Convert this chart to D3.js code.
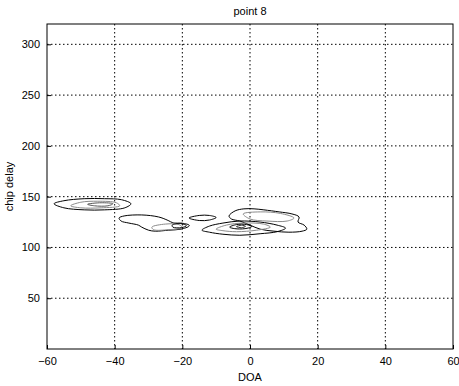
<!DOCTYPE html>
<html>
<head>
<meta charset="utf-8">
<script src="https://cdn.jsdelivr.net/npm/d3@7"></script>
<style>
  html, body { margin: 0; padding: 0; background: #fff; }
  text { font-family: "Liberation Sans", Arial, sans-serif; fill: #000; }
</style>
</head>
<body>
<div id="chart"></div>
<script>
// axis settings
const xDomain = [-60, 60];
const yDomain = [0, 320];
const xTicks = [-60, -40, -20, 0, 20, 40, 60];
const yTicks = [50, 100, 150, 200, 250, 300];

// contour loops, [DOA, chip delay]
const blob1Outer = [[-57.9,143],[-55,146],[-49,148],[-43,148],[-38,147],[-35.2,143],[-37,139],[-43,137],[-49,137],[-55,139]];
const blob1Inner = [[-53,141],[-50,144.5],[-45,145.5],[-39.5,144],[-38.5,141],[-44,139],[-50,139]];
const blob1Core  = [[-48,142.5],[-44,144],[-40.5,143],[-42,141],[-46,141]];

const blob2Outer = [[-38.7,129],[-37.2,131],[-32,132],[-27,130],[-24.5,127],[-22.5,124],[-20.4,124],[-18,122],[-18,121],[-20.4,118],[-24,117],[-28,116],[-30,117],[-32,120],[-33,122],[-35.8,124],[-38.1,126]];
const blob2Inner = [[-29,120],[-25,123],[-21,122.5],[-20,119.5],[-24,117.5],[-28.5,117.5]];
const blob2Core  = [[-23,122],[-20.5,123.5],[-18.8,121.5],[-20.2,119.5],[-22.8,120]];

const blob3Outer = [[-18,129],[-15,131.5],[-12,131.5],[-10,129.5],[-12,127],[-15,126.5]];

const blob4Lower = [[-14.2,117],[-12,121],[-8,124],[-3,126],[3,125],[8,122],[10.5,119],[8,115.5],[3,113.5],[-3,112],[-8,113],[-12,115]];
const blob4Upper = [[-6.2,131],[-4.4,136],[-1.8,138],[1.2,138],[4.1,137],[8.6,135],[12.4,133],[14.5,130],[14.2,125],[16,122],[16.8,118],[15.4,116],[11.5,115],[7.1,116],[3,118],[0,122],[-3,126],[-5.5,128]];
const blob4Inner = [[-10,118],[-7,122],[-2,124],[4,123],[6,120],[2,117],[-4,115.5],[-8,116.5]];
const blob4Core  = [[-6,120],[-4,122.5],[-1,122.5],[0.5,120.5],[-1.5,118.5],[-4.5,118.5]];
const blob4Peak  = [[-4,120.5],[-2.5,121.8],[-1.3,120.8],[-2.5,119.5]];
const blob4UpperInner = [[-2,133],[3,135],[9,133.5],[13,129],[11,126],[5,126],[0,128]];

const contours = [
  { pts: blob1Outer, c: "#000" },
  { pts: blob1Inner, c: "#8a8a8a" },
  { pts: blob1Core,  c: "#555" },
  { pts: blob2Outer, c: "#000" },
  { pts: blob2Inner, c: "#8a8a8a" },
  { pts: blob2Core,  c: "#000" },
  { pts: blob3Outer, c: "#000" },
  { pts: blob4Lower, c: "#000" },
  { pts: blob4Upper, c: "#000" },
  { pts: blob4Inner, c: "#8a8a8a" },
  { pts: blob4UpperInner, c: "#8a8a8a" },
  { pts: blob4Core,  c: "#000" },
  { pts: blob4Peak,  c: "#333" }
];

const W = 459, H = 386;
const margin = { left: 47, right: 6, top: 24, bottom: 37 };
const iw = W - margin.left - margin.right;
const ih = H - margin.top - margin.bottom;

const svg = d3.select("#chart").append("svg")
  .attr("width", W).attr("height", H);

const g = svg.append("g").attr("transform", `translate(${margin.left},${margin.top})`);

const x = d3.scaleLinear().domain(xDomain).range([0, iw]);
const y = d3.scaleLinear().domain(yDomain).range([ih, 0]);

// dotted grid
g.append("g").selectAll("line.gx")
  .data(xTicks.slice(1, -1)).enter().append("line")
  .attr("x1", d => x(d)).attr("x2", d => x(d))
  .attr("y1", 0).attr("y2", ih)
  .attr("stroke", "#000").attr("stroke-width", 1)
  .attr("stroke-dasharray", "1.5,2.5");
g.append("g").selectAll("line.gy")
  .data(yTicks).enter().append("line")
  .attr("x1", 0).attr("x2", iw)
  .attr("y1", d => y(d)).attr("y2", d => y(d))
  .attr("stroke", "#000").attr("stroke-width", 1)
  .attr("stroke-dasharray", "1.5,2.5");

// contours
const line = d3.line()
  .x(d => x(d[0])).y(d => y(d[1]))
  .curve(d3.curveCatmullRomClosed.alpha(0.5));
g.append("g").selectAll("path")
  .data(contours).enter().append("path")
  .attr("d", d => line(d.pts))
  .attr("fill", "none")
  .attr("stroke", d => d.c)
  .attr("stroke-width", 1);

// frame
g.append("rect")
  .attr("x", 0).attr("y", 0).attr("width", iw).attr("height", ih)
  .attr("fill", "none").attr("stroke", "#000").attr("stroke-width", 1);

// axes with inward ticks
const xAxis = d3.axisBottom(x).tickValues(xTicks).tickSizeInner(-4).tickSizeOuter(0).tickPadding(8);
const yAxis = d3.axisLeft(y).tickValues(yTicks).tickSizeInner(-4).tickSizeOuter(0).tickPadding(7);

const gx = g.append("g").attr("transform", `translate(0,${ih})`).call(xAxis);
const gy = g.append("g").call(yAxis);
[gx, gy].forEach(a => {
  a.select(".domain").remove();
  a.selectAll("line").attr("stroke", "#000");
  a.selectAll("text").style("font-size", "11px").style("font-family", "Liberation Sans, Arial, sans-serif");
});

// labels
svg.append("text")
  .attr("x", margin.left + iw / 2).attr("y", 15)
  .attr("text-anchor", "middle").style("font-size", "11px")
  .text("point 8");
svg.append("text")
  .attr("x", margin.left + iw / 2).attr("y", 381)
  .attr("text-anchor", "middle").style("font-size", "11px")
  .text("DOA");
svg.append("text")
  .attr("transform", `translate(13,${margin.top + ih / 2}) rotate(-90)`)
  .attr("text-anchor", "middle").style("font-size", "11px")
  .text("chip delay");
</script>
</body>
</html>
